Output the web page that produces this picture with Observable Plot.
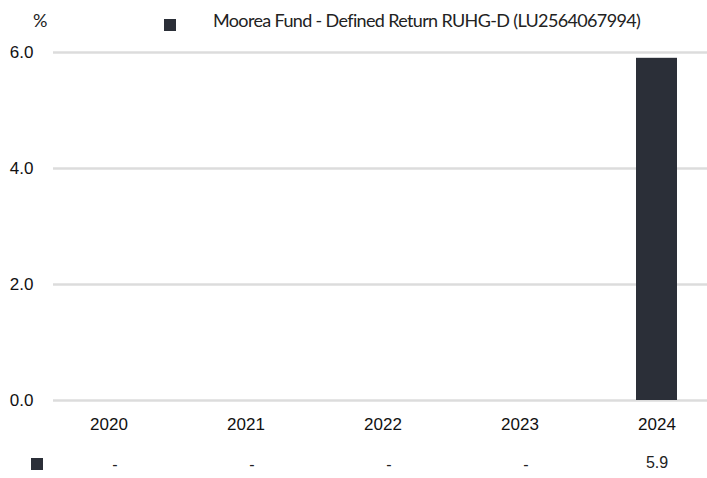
<!DOCTYPE html>
<html>
<head>
<meta charset="utf-8">
<script src="https://cdn.jsdelivr.net/npm/d3@7"></script>
<script src="https://cdn.jsdelivr.net/npm/@observablehq/plot@0.6"></script>
<style>
  html, body { margin: 0; padding: 0; background: #fff; }
  #wrap { position: relative; width: 707px; height: 478px; overflow: hidden; font-family: "Liberation Sans", Arial, sans-serif; }
  #top { position: relative; height: 40px; }
  .lab { position: absolute; font-family: Lato, "Noto Sans", sans-serif; color: #222; white-space: nowrap; }
  .sq { position: absolute; width: 12px; height: 12px; background: #2b2f38; }
  #chart svg { display: block; }
  #chart svg text { font-family: "Liberation Sans", Arial, sans-serif; }
</style>
</head>
<body>
<div id="wrap">
  <div id="top">
    <div class="lab" id="unit" style="left:33px; top:9px; font-size:18px;">%</div>
    <div class="sq" style="left:164px; top:19px;"></div>
    <div class="lab" id="series" style="left:213px; top:9px; font-size:18px; letter-spacing:-0.65px;"></div>
  </div>
  <div id="chart"></div>
  <div class="sq" style="left:31px; top:458px;"></div>
</div>
<script>
const seriesName = "Moorea Fund - Defined Return RUHG-D (LU2564067994)";
const unitLabel = "%";
const years = ["2020", "2021", "2022", "2023", "2024"];
const values = [null, null, null, null, 5.9];
const yTicks = [0, 2, 4, 6];

document.getElementById("series").textContent = seriesName;
document.getElementById("unit").textContent = unitLabel;

const data = years.map((y, i) => ({year: y, value: values[i]}));
const barColor = "#2b2f38";

const chart = Plot.plot({
  width: 707,
  height: 438,
  marginTop: 12,
  marginBottom: 78,
  marginLeft: 53,
  marginRight: 0,
  style: {color: "#111", background: "#fff"},
  x: {domain: years, range: [39, 727], paddingInner: 0.7, paddingOuter: 0.35, label: null},
  y: {domain: [0, 6], label: null},
  marks: [
    Plot.gridY(yTicks, {stroke: "#dcdcdc", strokeOpacity: 1, strokeWidth: 2.5}),
    Plot.barY(data.filter(d => d.value != null), {x: "year", y: "value", fill: barColor}),
    Plot.axisY(yTicks, {tickSize: 0, tickPadding: 20, tickFormat: d3.format(".1f"), fontSize: 17, fill: "#111"}),
    Plot.axisX({tickSize: 0, tickPadding: 17, fontSize: 17, fill: "#111"}),
    Plot.text(data.filter(d => d.value == null), {x: "year", text: () => "-", frameAnchor: "bottom", dy: 69, dx: 6, fontSize: 16, fill: "#222"}),
    Plot.text(data.filter(d => d.value != null), {x: "year", text: d => d3.format(".1f")(d.value), frameAnchor: "bottom", dy: 67, fontSize: 16, fill: "#222"})
  ]
});
document.getElementById("chart").appendChild(chart);
</script>
</body>
</html>
